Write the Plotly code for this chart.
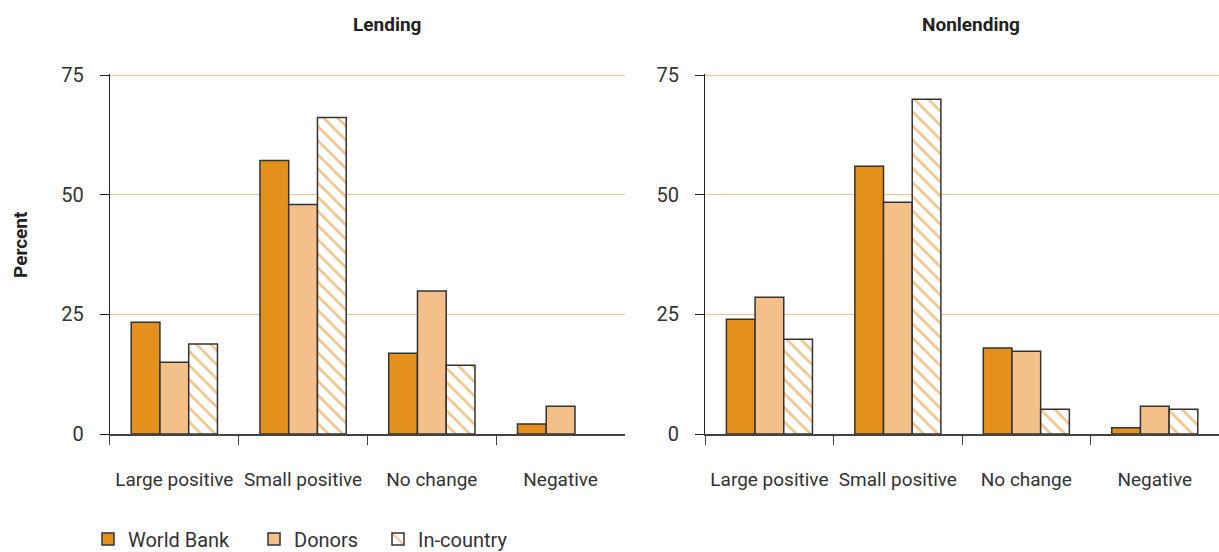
import plotly.graph_objects as go

categories = ["Large positive", "Small positive", "No change", "Negative"]

# Lending panel (no in-country bar is drawn for "Negative")
lending_world_bank = [23.4, 57.2, 16.9, 2.1]
lending_donors = [15.0, 48.0, 29.9, 5.8]
lending_in_country = [18.8, 66.2, 14.4, None]

# Nonlending panel
nonlending_world_bank = [24.0, 56.0, 18.0, 1.3]
nonlending_donors = [28.6, 48.5, 17.3, 5.8]
nonlending_in_country = [19.8, 70.0, 5.2, 5.2]

y_ticks = [0, 25, 50, 75]

FONT = "Roboto, Liberation Sans, sans-serif"
WB_COLOR = "#E3901C"
DONOR_COLOR = "#F2C088"
HATCH_COLOR = "#E68A1E"
EDGE = dict(color="#333333", width=1.5)

fig = go.Figure()

panels = [
    ("x", "y", lending_world_bank, lending_donors, lending_in_country, True),
    ("x2", "y2", nonlending_world_bank, nonlending_donors, nonlending_in_country, False),
]

for xa, ya, wb, don, inc, show in panels:
    fig.add_trace(go.Bar(
        x=categories, y=wb, name="World Bank", xaxis=xa, yaxis=ya,
        marker=dict(color=WB_COLOR, line=EDGE),
        legend="legend", legendgroup="wb", showlegend=show
    ))
    fig.add_trace(go.Bar(
        x=categories, y=don, name="Donors", xaxis=xa, yaxis=ya,
        marker=dict(color=DONOR_COLOR, line=EDGE),
        legend="legend2", legendgroup="don", showlegend=show
    ))
    fig.add_trace(go.Bar(
        x=categories, y=inc, name="In-country", xaxis=xa, yaxis=ya,
        marker=dict(
            color="white", line=EDGE,
            pattern=dict(shape="\\", fgcolor=HATCH_COLOR, bgcolor="white",
                         size=10, solidity=0.27)
        ),
        legend="legend3", legendgroup="inc", showlegend=show
    ))

xaxis_style = dict(
    showline=True, linecolor="#444444", linewidth=1.5,
    ticks="outside", tickson="boundaries", ticklen=9, tickcolor="#444444",
    tickfont=dict(family=FONT, size=19, color="#333333"),
    tickangle=0, ticklabelstandoff=27, showgrid=False,
)
yaxis_style = dict(
    range=[0, 75.3], tickvals=y_ticks, showline=True, linecolor="#222222", linewidth=1.2,
    ticks="outside", ticklen=9, tickcolor="#222222",
    showgrid=True, gridcolor="#F5C58E", gridwidth=1.3, zeroline=False,
    tickfont=dict(family=FONT, size=20, color="#333333"),
    ticklabelstandoff=12,
)

title_font = dict(family=FONT, size=19, color="#222222")


def legend_at(px):
    # one legend box per entry so the entries can sit at their own x positions
    return dict(
        orientation="h", x=(px - 14) / 1219, xanchor="left",
        y=-(539 - 434) / 360, yanchor="middle",
        font=dict(family=FONT, size=20, color="#333333"),
        itemwidth=30, bgcolor="rgba(0,0,0,0)",
    )


fig.update_layout(
    width=1219, height=552,
    margin=dict(l=0, r=0, t=74, b=118, autoexpand=False),
    plot_bgcolor="white", paper_bgcolor="white",
    barmode="group", bargap=0.33, bargroupgap=0,
    font=dict(family=FONT, size=20, color="#333333"),
    xaxis=dict(domain=[0.0902, 0.5127], anchor="y", **xaxis_style),
    yaxis=dict(anchor="x", **yaxis_style),
    xaxis2=dict(domain=[0.5785, 1.0], anchor="y2", **xaxis_style),
    yaxis2=dict(anchor="x2", **yaxis_style),
    legend=legend_at(102),
    legend2=legend_at(268),
    legend3=legend_at(392),
    annotations=[
        dict(text="<b>Lending</b>", x=387 / 1219, y=(434 - 24) / 360,
             xref="paper", yref="paper", xanchor="center", yanchor="middle",
             showarrow=False, font=title_font),
        dict(text="<b>Nonlending</b>", x=971 / 1219, y=(434 - 24) / 360,
             xref="paper", yref="paper", xanchor="center", yanchor="middle",
             showarrow=False, font=title_font),
        dict(text="<b>Percent</b>", x=20 / 1219, y=(434 - 245) / 360,
             xref="paper", yref="paper", xanchor="center", yanchor="middle",
             textangle=-90, showarrow=False, font=title_font),
    ],
)

fig.write_html("out.html", config={"displayModeBar": False},
               post_script="document.body.style.margin='0px';")
